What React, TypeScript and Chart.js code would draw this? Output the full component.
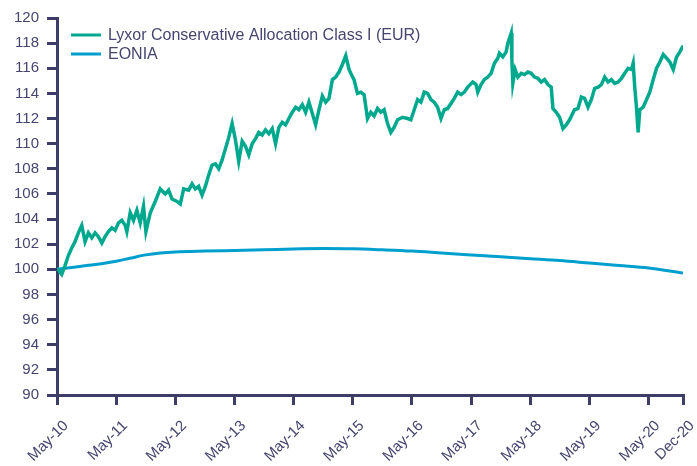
import { useEffect, useRef } from "react";
import { Chart, registerables } from "chart.js";

Chart.register(...registerables);

// x positions are months since May-2010
const X_TICK_MONTHS = [0, 12, 24, 36, 48, 60, 72, 84, 96, 108, 120, 127];
const X_TICK_LABELS = ["May-10", "May-11", "May-12", "May-13", "May-14", "May-15", "May-16", "May-17", "May-18", "May-19", "May-20", "Dec-20"];
const Y_TICKS = [90, 92, 94, 96, 98, 100, 102, 104, 106, 108, 110, 112, 114, 116, 118, 120];

const FUND_LABEL = "Lyxor Conservative Allocation Class I (EUR)";
const FUND_MONTHS = [
  0, 0.96, 1.63, 2.3, 2.99, 3.66, 4.33, 5.02, 5.69, 6.37, 7.06, 7.73, 8.4, 9.09, 9.76, 10.43, 11.13, 11.8,
  12.47, 13.16, 13.83, 14.17, 14.85, 15.52, 16.21, 16.88, 17.55, 18.04, 18.92, 19.93, 20.95, 21.97, 22.64, 23.33,
  24.35, 25.02, 25.69, 26.71, 27.4, 28.07, 28.74, 29.43, 30.1, 30.77, 31.46, 32.14, 32.81, 33.5, 34.17, 34.84,
  35.53, 36.2, 36.87, 37.57, 38.24, 38.91, 39.6, 40.27, 40.94, 41.63, 42.3, 42.98, 43.67, 44.34, 45.01, 45.7,
  46.37, 47.04, 47.74, 48.41, 49.08, 49.77, 50.44, 51.11, 51.8, 52.47, 53.15, 53.84, 54.51, 55.18, 55.87, 56.54,
  57.21, 57.9, 58.58, 59.25, 59.59, 60.26, 60.96, 61.63, 62.3, 62.99, 63.66, 64.33, 65.02, 65.69, 66.37, 67.06,
  67.73, 68.4, 69.09, 70.11, 71.13, 71.8, 72.47, 73.16, 73.83, 74.5, 75.19, 75.86, 76.53, 77.22, 77.9, 78.57,
  79.26, 79.93, 80.6, 81.29, 81.97, 82.64, 83.33, 84.34, 85.02, 85.36, 86.03, 86.7, 87.4, 88.07, 88.74, 89.43,
  89.76, 90.45, 91.12, 91.46, 92.14, 92.28, 92.48, 92.95, 93.5, 94.17, 94.84, 95.53, 96.2, 96.87, 97.57, 98.24,
  98.91, 99.6, 100.27, 100.61, 101.29, 101.96, 102.65, 103.32, 103.99, 104.99, 105.7, 106.37, 107.04, 107.73,
  108.4, 109.08, 109.77, 110.44, 111.11, 111.8, 112.47, 113.14, 113.84, 114.51, 115.18, 115.87, 116.54, 116.89,
  117.21, 117.56, 117.9, 118.23, 118.92, 119.59, 120.26, 120.96, 121.63, 122.3, 122.99, 123.66, 124.33, 125.02,
  125.69, 126.36, 127.05,
];
const FUND_VALUES = [
  100.1, 99.6, 100.3, 101.1, 101.7, 102.2, 102.9, 103.5, 102.2, 102.9, 102.5, 102.9, 102.6, 102.1, 102.6, 103.0, 103.3, 103.1,
  103.7, 103.9, 103.5, 103.0, 104.5, 103.9, 104.7, 103.7, 105.0, 103.0, 104.5, 105.4, 106.4, 106.0, 106.3, 105.6,
  105.4, 105.2, 106.4, 106.3, 106.8, 106.4, 106.6, 105.9, 106.6, 107.5, 108.3, 108.4, 108.0, 108.7, 109.6, 110.5,
  111.6, 110.3, 108.6, 110.2, 109.8, 109.1, 110.0, 110.4, 110.9, 110.7, 111.1, 110.8, 111.2, 110.0, 111.3, 111.7,
  111.5, 112.0, 112.5, 112.9, 112.7, 113.1, 112.5, 113.3, 112.4, 111.5, 112.7, 113.8, 113.3, 113.6, 115.1, 115.3,
  115.7, 116.3, 117.0, 115.9, 115.6, 115.1, 114.0, 114.1, 113.9, 112.0, 112.5, 112.2, 112.8, 112.5, 112.7, 111.6,
  110.9, 111.3, 111.9, 112.1, 112.0, 111.9, 112.7, 113.5, 113.3, 114.1, 114.0, 113.5, 113.3, 112.9, 112.0, 112.7,
  112.8, 113.2, 113.6, 114.1, 113.9, 114.1, 114.5, 114.9, 114.7, 114.1, 114.7, 115.1, 115.3, 115.6, 116.4, 116.8,
  117.2, 116.9, 117.3, 118.0, 118.8, 116.7, 114.8, 115.9, 115.3, 115.6, 115.5, 115.7, 115.6, 115.3, 115.2, 114.9,
  115.1, 114.7, 114.5, 112.8, 112.5, 112.1, 111.2, 111.5, 111.9, 112.7, 112.8, 113.7, 113.6, 112.9,
  113.5, 114.4, 114.5, 114.7, 115.3, 114.9, 115.1, 114.8, 114.9, 115.2, 115.6, 116.0, 115.9, 116.4,
  114.5, 112.9, 110.9, 112.7, 112.9, 113.5, 114.1, 115.1, 116.0, 116.5, 117.1, 116.8, 116.5, 115.9,
  116.9, 117.3, 117.8,
];

const EONIA_LABEL = "EONIA";
const EONIA_MONTHS = [0, 3, 6, 9, 12, 15, 18, 21, 24, 30, 36, 42, 48, 54, 60, 66, 72, 78, 84, 90, 96, 102, 108, 114, 120, 127];
const EONIA_VALUES = [100.0, 100.15, 100.3, 100.45, 100.65, 100.9, 101.15, 101.3, 101.38, 101.45, 101.5, 101.55, 101.62, 101.65, 101.63, 101.55, 101.45, 101.3, 101.15, 101.0, 100.85, 100.7, 100.5, 100.3, 100.1, 99.7];

const GREEN = "#00a88e";
const BLUE = "#009fce";
const AXIS = "#3d3d68";
const TEXT = "#45456f";
const FONT = "'Liberation Sans', Arial, sans-serif";

const legendPlugin = {
  id: "insideLegend",
  afterDraw(chart: any) {
    const { ctx, chartArea } = chart;
    ctx.save();
    ctx.font = `16px ${FONT}`;
    ctx.textBaseline = "middle";
    ctx.textAlign = "left";
    chart.data.datasets.forEach((ds: any, i: number) => {
      const y = chartArea.top + 17 + i * 19;
      const x0 = chartArea.left + 14;
      ctx.strokeStyle = ds.borderColor;
      ctx.lineWidth = 3;
      ctx.beginPath();
      ctx.moveTo(x0, y);
      ctx.lineTo(x0 + 30, y);
      ctx.stroke();
      ctx.fillStyle = TEXT;
      ctx.fillText(ds.label, x0 + 37, y + 1);
    });
    ctx.restore();
  },
};

export default function App() {
  const ref = useRef<HTMLCanvasElement | null>(null);

  useEffect(() => {
    document.body.style.margin = "0";
    const canvas = ref.current;
    if (!canvas) return;
    const chart = new Chart(canvas, {
      type: "line",
      data: {
        datasets: [
          {
            label: FUND_LABEL,
            data: FUND_MONTHS.map((m, i) => ({ x: m, y: FUND_VALUES[i] })),
            borderColor: GREEN,
            backgroundColor: GREEN,
            borderWidth: 3.5,
            pointRadius: 0,
            tension: 0,
          },
          {
            label: EONIA_LABEL,
            data: EONIA_MONTHS.map((m, i) => ({ x: m, y: EONIA_VALUES[i] })),
            borderColor: BLUE,
            backgroundColor: BLUE,
            borderWidth: 3,
            pointRadius: 0,
            cubicInterpolationMode: "monotone",
          },
        ],
      },
      options: {
        responsive: false,
        animation: false,
        layout: { padding: { left: 0, top: 18, right: 14, bottom: 0 } },
        plugins: {
          tooltip: { enabled: false },
          legend: { display: false },
        },
        scales: {
          x: {
            type: "linear",
            min: 0,
            max: 127,
            afterBuildTicks: (s: any) => {
              s.ticks = X_TICK_MONTHS.map((v) => ({ value: v }));
            },
            afterFit: (s: any) => {
              s.height = 71;
              s.paddingLeft = 0;
              s.paddingRight = 0;
            },
            ticks: {
              autoSkip: false,
              minRotation: 45,
              maxRotation: 45,
              padding: 12,
              labelOffset: 9,
              color: TEXT,
              font: { family: FONT, size: 15 },
              callback: (v: any) => {
                const i = X_TICK_MONTHS.indexOf(Number(v));
                return i >= 0 ? X_TICK_LABELS[i] : "";
              },
            },
            grid: { drawOnChartArea: false, drawTicks: true, tickLength: 10, color: AXIS, lineWidth: 3 },
            border: { display: true, color: AXIS, width: 3 },
          },
          y: {
            min: 90,
            max: 120,
            afterBuildTicks: (s: any) => {
              s.ticks = Y_TICKS.map((v) => ({ value: v }));
            },
            afterFit: (s: any) => {
              s.width = 57;
            },
            ticks: {
              padding: 8,
              color: TEXT,
              font: { family: FONT, size: 15 },
            },
            grid: { drawOnChartArea: false, drawTicks: true, tickLength: 10, color: AXIS, lineWidth: 3 },
            border: { display: true, color: AXIS, width: 3 },
          },
        },
      },
      plugins: [legendPlugin],
    });
    return () => chart.destroy();
  }, []);

  return (
    <div style={{ width: 697, height: 466 }}>
      <canvas ref={ref} width={697} height={466} />
    </div>
  );
}
